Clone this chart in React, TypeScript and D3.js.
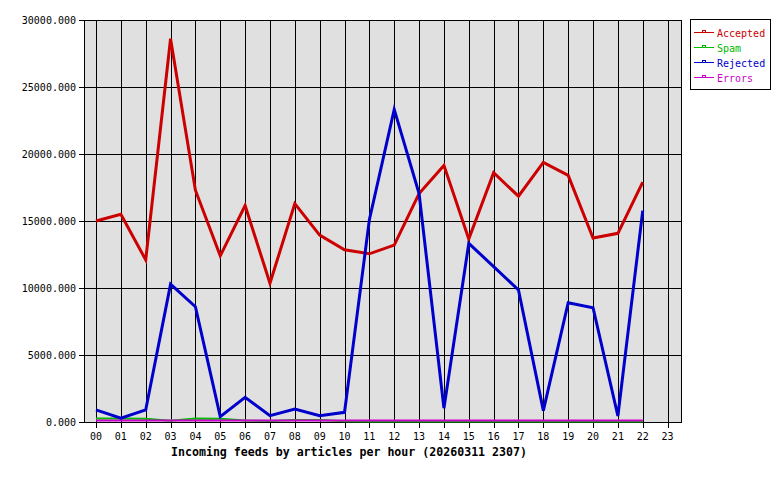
import React from "react";
import * as d3 from "d3";

const hours = ["00","01","02","03","04","05","06","07","08","09","10","11","12","13","14","15","16","17","18","19","20","21","22","23"];
const yTicks = [0, 5000, 10000, 15000, 20000, 25000, 30000];

const accepted = [15000, 15500, 12100, 28600, 17300, 12400, 16150, 10350, 16300, 13950, 12850, 12550, 13200, 17050, 19150, 13650, 18600, 16850, 19380, 18400, 13730, 14080, 17900];
const spam = [220, 220, 200, 60, 220, 200, 80, 30, 120, 120, 20, 0, 0, 0, 0, 0, 0, 0, 0, 0, 0, 0, 0];
const rejected = [900, 280, 900, 10280, 8600, 400, 1840, 470, 970, 470, 720, 15100, 23330, 17050, 1030, 13330, 11600, 9850, 850, 8900, 8530, 450, 15770];
const errors = [0, 0, 0, 0, 0, 0, 0, 0, 0, 0, 0, 0, 0, 0, 0, 0, 0, 0, 0, 0, 0, 0, 0];

const seriesNames = ["Accepted", "Spam", "Rejected", "Errors"];
const seriesColors = ["#cc0000", "#00bb00", "#0000cc", "#cc00cc"];
const seriesData = [accepted, spam, rejected, errors];
const seriesWidths = [3, 2, 3, 2];
const seriesShift = [0, -0.5, 0, -1.5];

const title = "Incoming feeds by articles per hour (20260311 2307)";

export default function App() {
  const W = 780, H = 480;
  const left = 84, right = 681, top = 20, bottom = 422;
  const x = d3.scaleLinear().domain([0, 23]).range([96, 667.6]);
  const y = d3.scaleLinear().domain([0, 30000]).range([bottom, top]);
  const line = d3.line<number>().x((_, i) => x(i)).y((d) => y(d));
  const font = "'DejaVu Sans Mono', monospace";
  const order = [1, 3, 0, 2];
  return (
    <svg width={W} height={H} style={{ position: "absolute", left: 0, top: 0, background: "#fff" }}>
      <rect x={left} y={top} width={right - left} height={bottom - top} fill="#e0e0e0" />
      <g shapeRendering="crispEdges" stroke="#000" strokeWidth={1}>
        {yTicks.map((t) => (
          <line key={"h" + t} x1={left - 5} x2={right} y1={Math.round(y(t)) + 0.5} y2={Math.round(y(t)) + 0.5} />
        ))}
        {hours.map((h, i) => (
          <line key={"v" + h} x1={Math.round(x(i)) + 0.5} x2={Math.round(x(i)) + 0.5} y1={top} y2={bottom + 6} />
        ))}
        <rect x={left + 0.5} y={top + 0.5} width={right - left} height={bottom - top} fill="none" />
      </g>
      {order.map((k) => (
        <path key={seriesNames[k]} d={line(seriesData[k]) || ""} transform={`translate(0,${seriesShift[k]})`} fill="none" stroke={seriesColors[k]} strokeWidth={seriesWidths[k]} strokeLinejoin="miter" />
      ))}
      <g fontFamily={font} fontSize={10} fill="#000">
        {yTicks.map((t) => (
          <text key={"yl" + t} x={76} y={y(t)} textAnchor="end" dominantBaseline="central">{d3.format(".3f")(t)}</text>
        ))}
        {hours.map((h, i) => (
          <text key={"xl" + h} x={x(i)} y={436} textAnchor="middle" dominantBaseline="central">{h}</text>
        ))}
      </g>
      <text x={171} y={452} fontFamily={font} fontSize={11.6} fontWeight="bold" dominantBaseline="central">{title}</text>
      <g>
        <rect x={690.5} y={19.5} width={80} height={70} fill="#fff" stroke="#000" shapeRendering="crispEdges" />
        {seriesNames.map((n, i) => {
          const cy = 32 + i * 15;
          return (
            <g key={n} shapeRendering="crispEdges">
              <line x1={694} x2={714} y1={cy + 0.5} y2={cy + 0.5} stroke={seriesColors[i]} strokeWidth={1} />
              <rect x={702.5} y={cy - 1.5} width={3} height={2} fill="none" stroke={seriesColors[i]} strokeWidth={1} />
              <text x={717} y={cy + 1} fontFamily={font} fontSize={10} fill={seriesColors[i]} dominantBaseline="central">{n}</text>
            </g>
          );
        })}
      </g>
    </svg>
  );
}
